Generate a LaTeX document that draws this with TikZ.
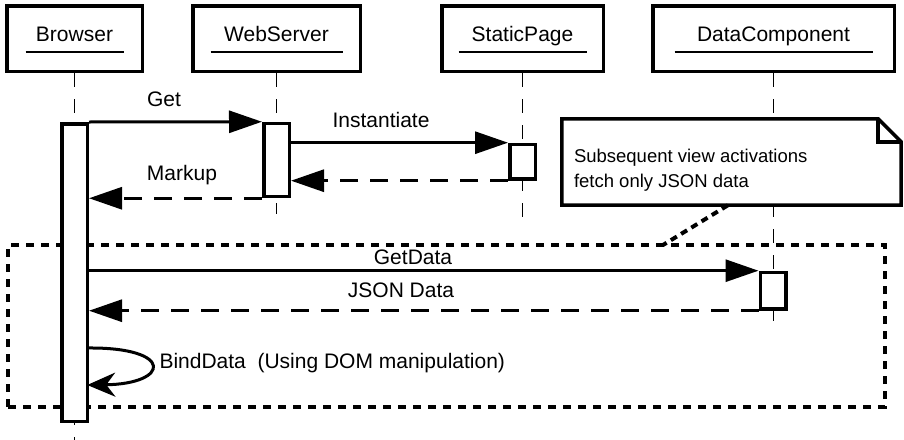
\documentclass[tikz,border=0pt]{standalone}
\usepackage{fontspec}
\setmainfont{Liberation Sans}
\usetikzlibrary{arrows.meta}
\def\lifehead[#1](#2:#3:#4)#5{%
	\node[headbox, minimum width=#3pt] (#1) at (#2, 38.5) {};
	\node[headtext] (#1text) at (#2, 41.5) {#5};
	\draw[line width=2pt] (#2-#4, 52) -- (#2+#4, 52);}
\tikzset{
	headbox/.style={draw, line width=3.5pt, minimum height=65.5pt, inner sep=0pt},
	headtext/.style={font=\fontsize{21}{25}\selectfont, anchor=base},
	msgtext/.style={font=\fontsize{21}{25}\selectfont, anchor=base},
	notetext/.style={font=\fontsize{18.5}{25}\selectfont, align=left, inner sep=0pt},
	lifeline/.style={line width=1.5pt, dash pattern=on 14pt off 12pt},
	actbox/.style={draw, fill=white, line width=3.5pt, minimum width=25.5pt, inner sep=0pt},
	call/.style={line width=3pt, -{Triangle[length=33pt, width=22pt]}},
	reply/.style={call, dash pattern=on 18pt off 12pt},
	selfcall/.style={line width=3pt, -{Stealth[length=28pt, width=24pt, inset=9pt]}},
	fragment/.style={draw, line width=3.5pt, dash pattern=on 8pt off 7pt, inner sep=0pt},
	notebox/.style={line width=3.5pt, line join=miter},
	notelink/.style={line width=4pt, dash pattern=on 7pt off 5pt}
}
\begin{document}
\begin{tikzpicture}[x=1pt, y=-1pt]
	%%%%% START %%%%%
	\useasboundingbox (0, 0) rectangle (904, 439);
	
	\node[fragment, minimum width=877pt, minimum height=162pt] (loopframe) at (446.5, 326) {};
	
	\lifehead[browser](74.5:135.5:49){Browser}
	\lifehead[webserver](276.5:167.5:66){WebServer}
	\lifehead[staticpage](522.5:161.5:64){StaticPage}
	\lifehead[datacomp](773.5:241.5:99){DataComponent}
	
	\draw[lifeline] (browser.south) -- ++(0, 368);
	\draw[lifeline] (webserver.south) -- ++(0, 141);
	\draw[lifeline] (staticpage.south) -- ++(0, 144);
	\draw[lifeline] (datacomp.south) -- ++(0, 252);
	
	\node[actbox, minimum height=297.5pt] (browserAct) at (74.5, 272.5) {};
	\node[actbox, minimum height=73pt] (webAct) at (276.5, 160) {};
	\node[actbox, minimum height=34.5pt] (pageAct) at (522.5, 161.7) {};
	\node[actbox, minimum height=36.5pt] (dataAct) at (773, 290.7) {};
	
	\draw[call] (browserAct.north east) -- (webAct.north west);
	\draw[call] (webAct.east |- pageAct.north) -- (pageAct.north west);
	\draw[reply] (pageAct.south west) -- (webAct.east |- pageAct.south);
	\draw[reply] (webAct.south west) -- (browserAct.east |- webAct.south);
	\draw[call] (browserAct.east |- dataAct.north) -- (dataAct.north west);
	\draw[reply] (dataAct.south west) -- (browserAct.east |- dataAct.south);
	
	\coordinate (bindFrom) at (87.25, 348);
	\coordinate (bindTo) at (87.25, 385);
	\draw[selfcall] (bindFrom) .. controls (175, 347) and (170, 384) .. (bindTo);
	
	\node[msgtext] (getLbl) at (164, 106) {Get};
	\node[msgtext] (instLbl) at (381, 127) {Instantiate};
	\node[msgtext] (markupLbl) at (182, 180) {Markup};
	\node[msgtext] (getDataLbl) at (413, 264) {GetData};
	\node[msgtext] (jsonLbl) at (401, 297) {JSON Data};
	\node[msgtext, anchor=base west] (bindLbl) at (156, 368) {BindData\ \ (Using DOM manipulation)};
	
	% note with folded corner
	\node[minimum width=339pt, minimum height=86pt, inner sep=0pt] (note) at (731.5, 162) {};
	\fill[white] (note.north west) rectangle (note.south east);
	\draw[notebox] (note.north west) -- ([xshift=-23pt]note.north east) -- ([yshift=-23pt]note.north east) -- (note.south east) -- (note.south west) -- cycle;
	\draw[notebox] ([xshift=-23pt]note.north east) |- ([yshift=-23pt]note.north east);
	\node[notetext, anchor=north west] (notetxt) at ([xshift=12pt, yshift=-30.5pt]note.north west) {Subsequent view activations\\fetch only JSON data};
	
	\coordinate (frameHook) at (663, 245);
	\draw[notelink] ([xshift=-3.5pt]note.south) -- (frameHook);
	
	%%%%% END %%%%%
\end{tikzpicture}
\end{document}
